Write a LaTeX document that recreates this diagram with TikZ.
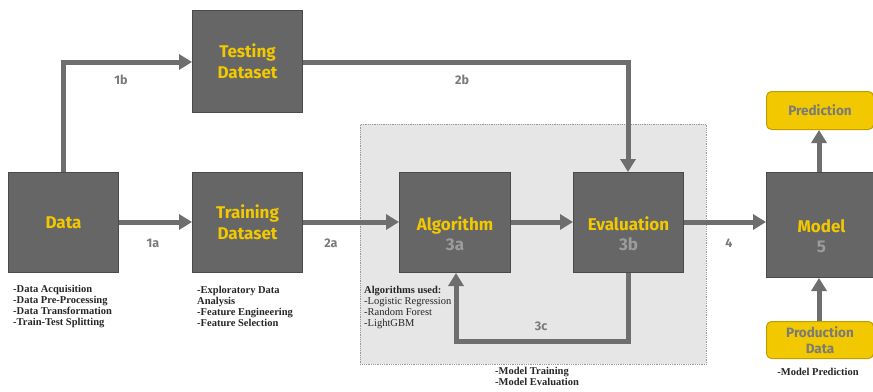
\documentclass[tikz,border=0pt]{standalone}
\usepackage{fontspec}
\setmainfont{Liberation Serif}
\newfontfamily\boxfont{Fira Sans}
\usetikzlibrary{arrows.meta}
\definecolor{boxfill}{HTML}{666666}
\definecolor{boxline}{HTML}{4A4A4A}
\definecolor{ylw}{HTML}{F2C800}
\definecolor{ylwline}{HTML}{C29E00}
\definecolor{numgray}{HTML}{9C9C9C}
\definecolor{arrgray}{HTML}{6E6E6E}
\definecolor{lblgray}{HTML}{7A7A7A}
\definecolor{areafill}{HTML}{E6E6E6}
\tikzset{
  box/.style={draw=boxline, line width=1pt, fill=boxfill, text=ylw, font=\boxfont\bfseries\fontsize{17}{21}\selectfont, align=center, anchor=north west, minimum width=110pt, minimum height=100pt, inner sep=0pt},
  boxtxt/.style={text=ylw, font=\boxfont\bfseries\fontsize{17}{20}\selectfont, align=center, inner sep=0pt},
  ybox/.style={draw=ylwline, line width=1pt, fill=ylw, rounded corners=5pt, text=lblgray, font=\boxfont\bfseries\fontsize{13.5}{16}\selectfont, align=center, anchor=north west, minimum width=107pt, inner sep=0pt},
  flow/.style={draw=arrgray, line width=5pt, -{Triangle[length=13pt,width=15pt]}},
  lbl/.style={text=lblgray, font=\boxfont\bfseries\fontsize{12.5}{14}\selectfont},
  note/.style={font=\bfseries\fontsize{10.5}{11}\selectfont, align=left, anchor=north west, inner sep=0pt, text=black!85},
  num/.style={text=numgray}
}
\begin{document}
\begin{tikzpicture}[x=1pt,y=-1pt]
\useasboundingbox[fill=white] (0,0) rectangle (873,391);
\begin{scope}
\clip (0,0) rectangle (873,391);
% shaded area
\node[draw=gray!80, densely dotted, line width=0.8pt, fill=areafill, anchor=north west, minimum width=346pt, minimum height=240pt, inner sep=0pt] (area) at (360,124) {};
% boxes
\node[box] (data) at (8,172) {Data};
\node[box, minimum height=100pt] (train) at (192,172) {Training\\Dataset};
\node[box, minimum height=102pt] (test) at (192,10) {Testing\\Dataset};
\node[box, minimum width=111pt] (alg) at (399,172) {};
\node[box] (eval) at (573,172) {};
\node[box, minimum height=105pt] (model) at (766,172) {};
\node[boxtxt, yshift=-11pt] (algt) at (alg.center) {Algorithm\\{\color{numgray}3a}};
\node[boxtxt, yshift=-11pt] (evalt) at (eval.center) {Evaluation\\{\color{numgray}3b}};
\node[boxtxt, yshift=-11pt] (modelt) at (model.center) {Model\\{\color{numgray}5}};
\node[ybox, minimum height=38pt] (pred) at (766,91) {Prediction};
\node[ybox, minimum height=37pt] (prod) at (766,321) {Production\\Data};
% connectors
\coordinate (c1) at (63,62);
\coordinate (c2) at (628,62);
\coordinate (c3) at (628,341);
\coordinate (c4) at (456,341);
\draw[flow] (data.north -| c1) -- (c1) -- (test.west |- c1);
\draw[flow] (data.east |- 0,222) -- (train.west |- 0,222);
\draw[flow] (train.east |- 0,222) -- (alg.west |- 0,222);
\draw[flow] (test.east |- c2) -- (c2) -- (eval.north -| c2);
\draw[flow] (alg.east |- 0,222) -- (eval.west |- 0,222);
\draw[flow] (eval.east |- 0,222) -- (model.west |- 0,222);
\draw[flow] (eval.south -| c3) -- (c3) -- (c4) -- (alg.south -| c4);
\draw[flow] (model.north -| 819,0) -- (pred.south -| 819,0);
\draw[flow] (prod.north -| 819,0) -- (model.south -| 819,0);
% labels
\node[lbl] (l1b) at (121,80) {1b};
\node[lbl] (l1a) at (153,243) {1a};
\node[lbl] (l2b) at (462,80) {2b};
\node[lbl] (l2a) at (331,243) {2a};
\node[lbl] (l4) at (729,243) {4};
\node[lbl] (l3c) at (541,326) {3c};
% notes
\node[note] (n1) at (13,285) {-Data Acquisition\\-Data Pre-Processing\\-Data Transformation\\-Train-Test Splitting};
\node[note] (n2) at (197,286) {-Exploratory Data\\Analysis\\-Feature Engineering\\-Feature Selection};
\node[note, font=\fontsize{10.5}{11}\selectfont] (n3) at (364,286) {\textbf{Algorithms used:}\\-Logistic Regression\\-Random Forest\\-LightGBM};
\node[note] (n4) at (495,367) {-Model Training\\-Model Evaluation};
\node[note, anchor=north] (n5) at (818,368) {-Model Prediction};
\end{scope}
\end{tikzpicture}
\end{document}
